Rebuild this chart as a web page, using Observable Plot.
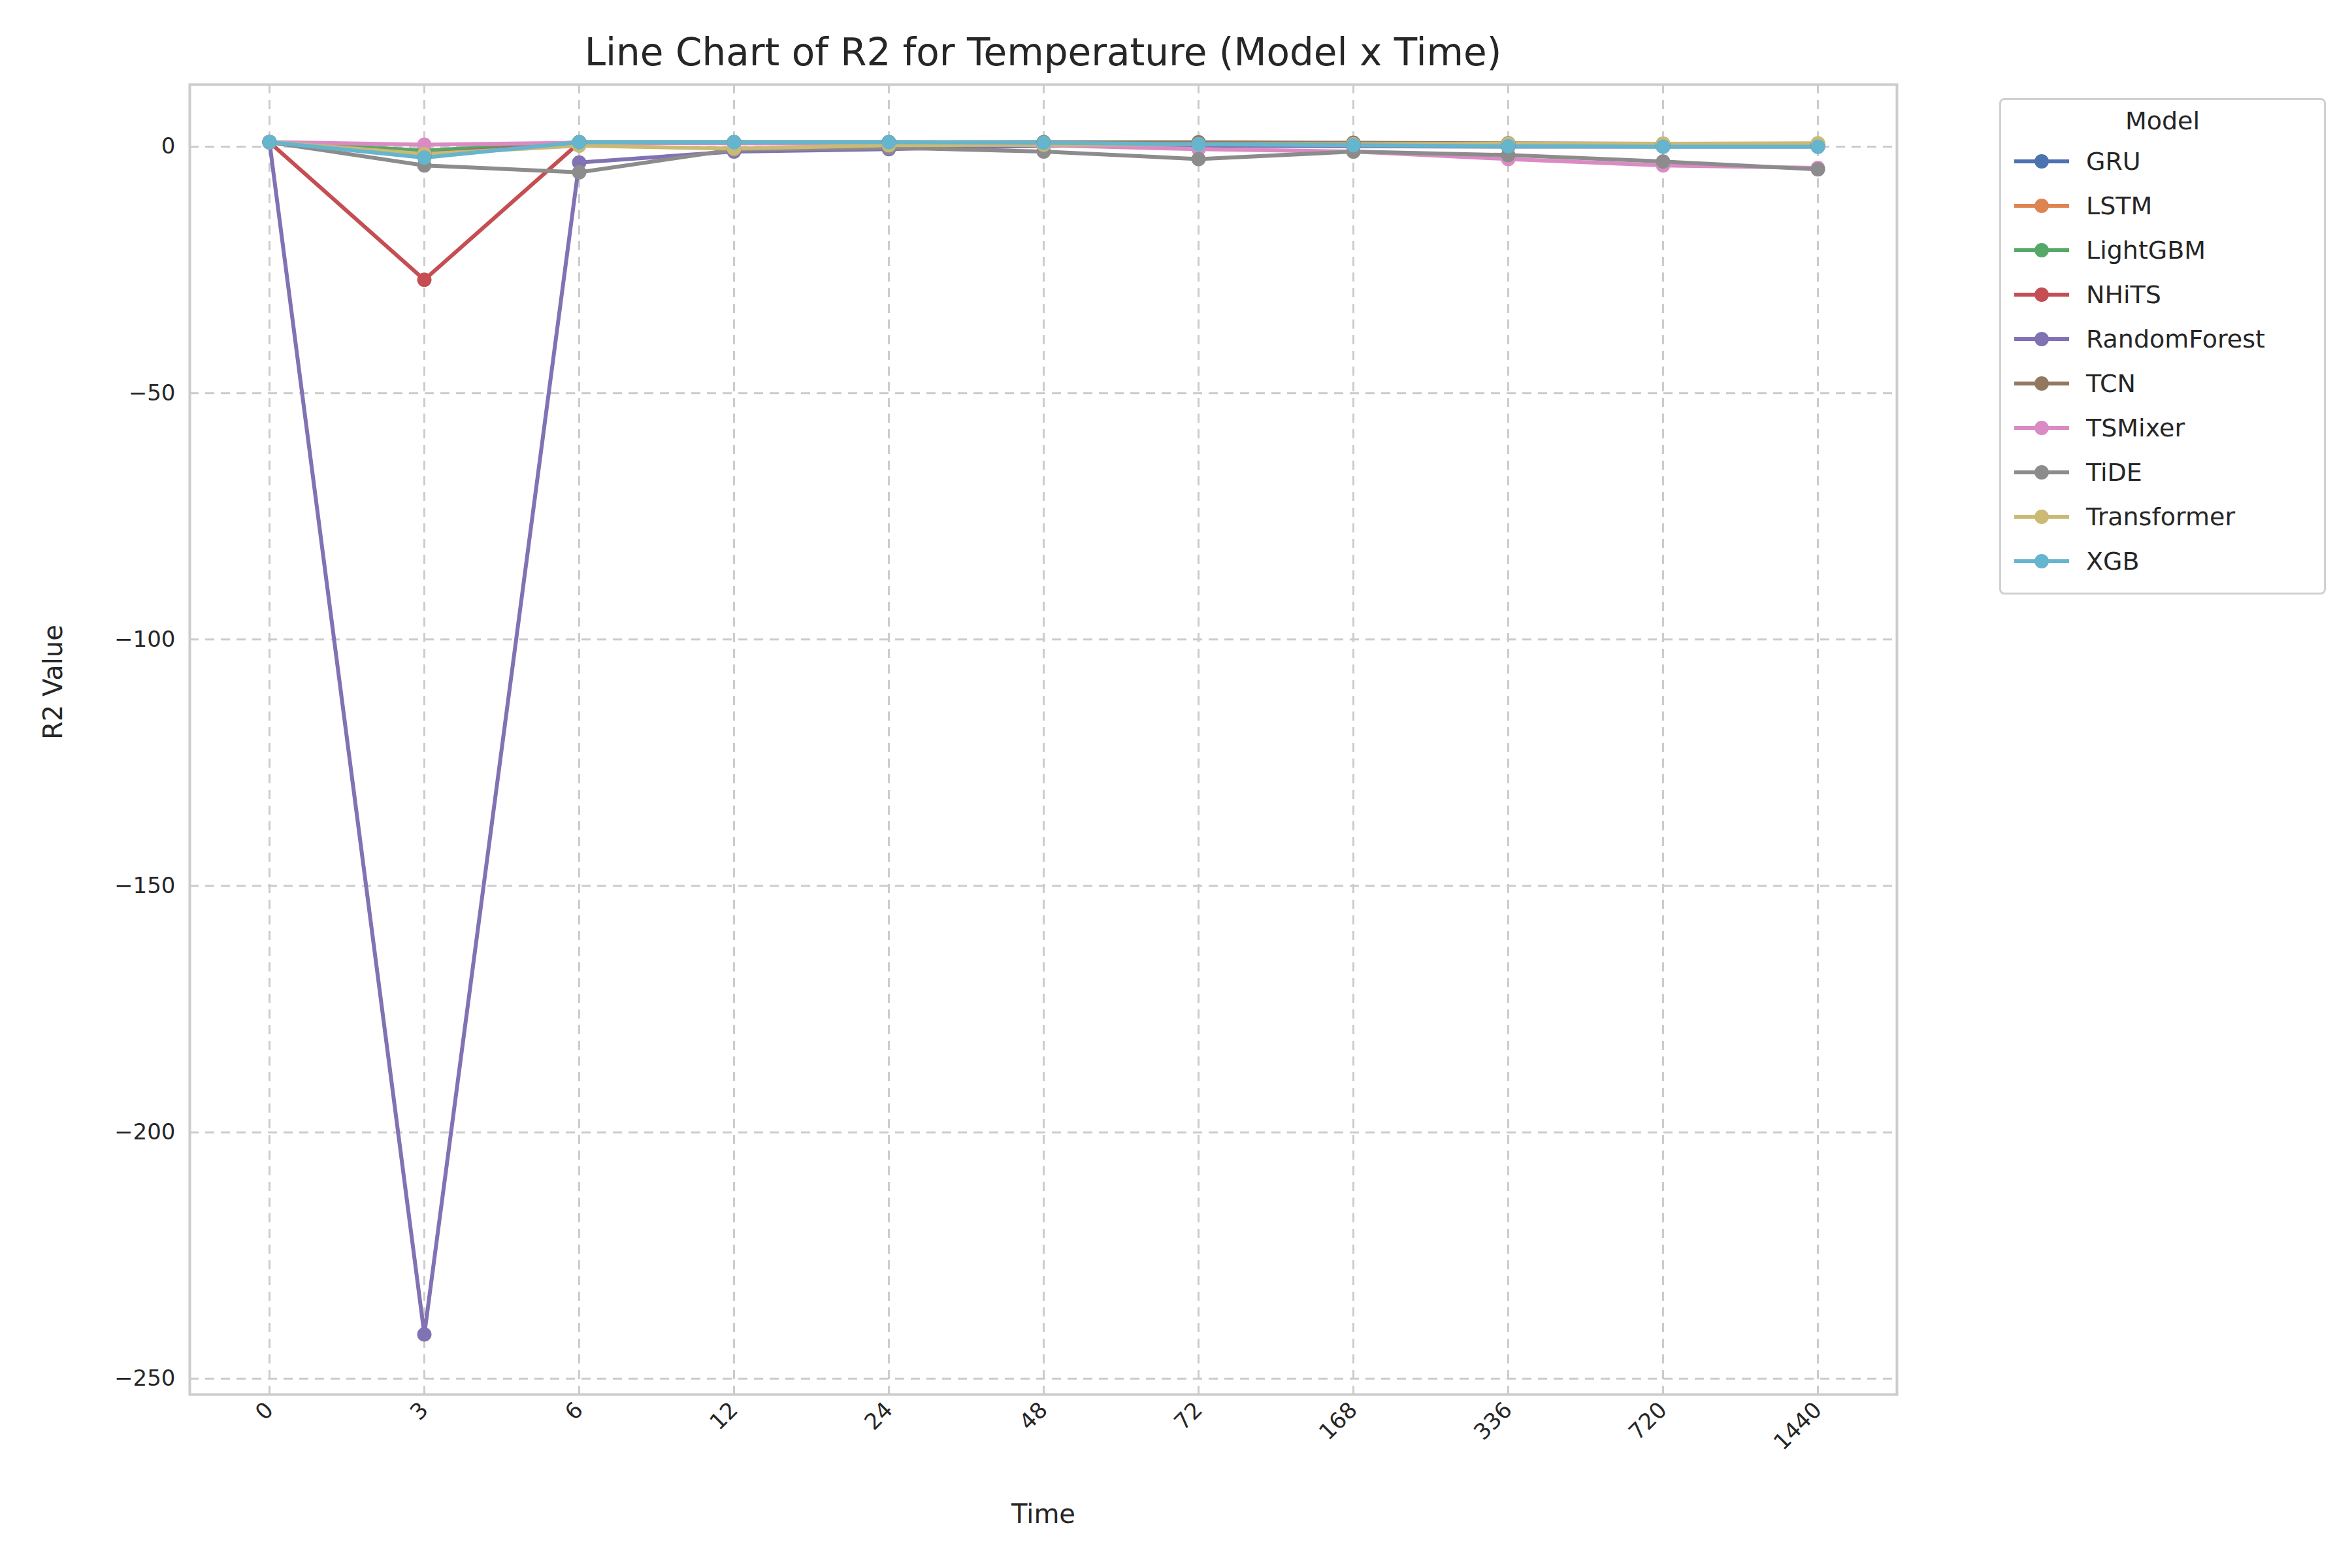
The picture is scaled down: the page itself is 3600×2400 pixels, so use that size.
<!DOCTYPE html>
<html>
<head>
<meta charset="utf-8">
<script src="https://cdn.jsdelivr.net/npm/d3@7"></script>
<script src="https://cdn.jsdelivr.net/npm/@observablehq/plot@0.6"></script>
<style>
  body { margin: 0; background: #fff; font-family: "DejaVu Sans", sans-serif; }
  #wrap { position: relative; width: 3600px; height: 2400px; }
  #title { position: absolute; top: 46px; left: 290px; width: 2613px; text-align: center; font-size: 58px; color: #262626; }
  #chart { position: absolute; top: 0; left: 0; }
  #legend { position: absolute; left: 3060px; top: 150px; width: 494px; border: 3px solid #d0d0d0; border-radius: 8px; padding: 10px 0 14px 0; font-size: 38px; color: #262626; background: #fff; }
  #legend .head { text-align: center; margin-bottom: 6px; }
  #legend .row { display: flex; align-items: center; height: 68px; }
  #legend svg { margin: 0 24px 0 18px; }
</style>
</head>
<body>
<div id="wrap">
  <div id="chart"></div>
  <div id="title">Line Chart of R2 for Temperature (Model x Time)</div>
  <div id="legend"></div>
</div>
<script>
const times = ["0", "3", "6", "12", "24", "48", "72", "168", "336", "720", "1440"];
const models = ["GRU", "LSTM", "LightGBM", "NHiTS", "RandomForest", "TCN", "TSMixer", "TiDE", "Transformer", "XGB"];
const colors = ["#4C72B0", "#DD8452", "#55A868", "#C44E52", "#8172B3", "#937860", "#DA8BC3", "#8C8C8C", "#CCB974", "#64B5CD"];

const gru = [0.95, -2, 0.9, 0.9, 0.9, 0.8, 0.7, 0.6, 0.5, 0.4, 0.3];
const lstm = [0.95, -1.5, 0.8, 0.8, 0.8, 0.8, 0.7, 0.6, 0.5, 0.4, 0.3];
const lightgbm = [0.95, -0.8, 0.9, 0.9, 0.9, 0.9, 0.8, 0.7, 0.6, 0.5, 0.4];
const nhits = [0.9, -27, 0.8, 0.8, 0.8, 0.8, 0.7, 0.7, 0.6, 0.5, 0.5];
const randomForest = [0.9, -241, -3.2, -1, -0.5, 0.2, 0.2, 0.1, 0, 0, 0];
const tcn = [0.95, -1.5, 0.9, 0.9, 0.9, 0.9, 0.9, 0.8, 0.7, 0.6, 0.6];
const tsmixer = [0.95, 0.4, 0.8, 0.7, 0.6, 0.3, -0.5, -1, -2.5, -3.8, -4.3];
const tide = [0.9, -3.8, -5.2, -0.6, -0.2, -1, -2.5, -1, -1.7, -3, -4.6];
const transformer = [0.95, -1.5, 0.2, -0.4, 0.3, 0.4, 0.5, 0.5, 0.6, 0.6, 0.7];
const xgb = [0.95, -2.2, 0.9, 0.9, 0.9, 0.8, 0.5, 0.3, 0.1, 0, 0];

const series = [gru, lstm, lightgbm, nhits, randomForest, tcn, tsmixer, tide, transformer, xgb];
const rows = series.flatMap((vals, i) =>
    vals.map((v, j) => ({ model: models[i], time: times[j], r2: v }))
);

const chart = Plot.plot({
    width: 2960,
    height: 2400,
    marginLeft: 290,
    marginRight: 57,
    marginTop: 129,
    marginBottom: 266,
    style: { fontFamily: "DejaVu Sans", fontSize: "34px", color: "#262626" },
    x: { type: "point", domain: times, padding: 0.5, label: null },
    y: { domain: [-253.2, 12.6], label: null },
    color: { domain: models, range: colors },
    marks: [
        Plot.gridX(times, { stroke: "#cccccc", strokeOpacity: 1, strokeWidth: 3, strokeDasharray: "14,10" }),
        Plot.gridY([-250, -200, -150, -100, -50, 0], { stroke: "#cccccc", strokeOpacity: 1, strokeWidth: 3, strokeDasharray: "14,10" }),
        Plot.frame({ stroke: "#cccccc", strokeWidth: 4 }),
        Plot.axisX({ tickSize: 0, tickRotate: -45, tickPadding: 18, fontSize: 34, label: null }),
        Plot.axisY({ ticks: [-250, -200, -150, -100, -50, 0], tickSize: 0, tickPadding: 22, fontSize: 34, label: null,
            tickFormat: (d) => String(d).replace("-", "\u2212") }),
        Plot.text(["Time"], { frameAnchor: "bottom", dy: 196, fontSize: 40, fill: "#262626" }),
        Plot.text(["R2 Value"], { frameAnchor: "left", dx: -208, rotate: -90, fontSize: 40, fill: "#262626" }),
        Plot.line(rows, { x: "time", y: "r2", z: "model", stroke: "model", strokeWidth: 6 }),
        Plot.dot(rows, { x: "time", y: "r2", fill: "model", r: 11 })
    ]
});
document.getElementById("chart").append(chart);

const legend = document.getElementById("legend");
legend.innerHTML = '<div class="head">Model</div>' + models.map((m, i) =>
    `<div class="row"><svg width="88" height="30"><line x1="2" y1="15" x2="86" y2="15" stroke="${colors[i]}" stroke-width="6"/><circle cx="44" cy="15" r="11" fill="${colors[i]}"/></svg>${m}</div>`
).join("");
</script>
</body>
</html>
